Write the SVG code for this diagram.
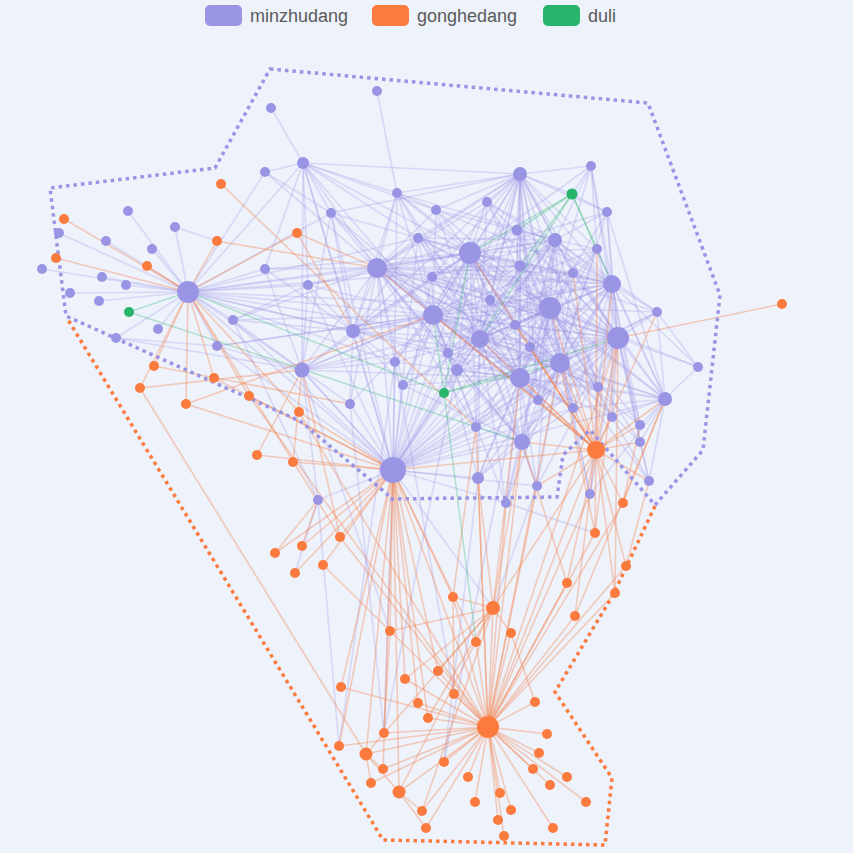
<svg xmlns="http://www.w3.org/2000/svg" width="853" height="853" viewBox="0 0 853 853">
<style>
.bg{fill:#eef2fb}
.pe path{stroke:#9a94e4;stroke-opacity:.27;stroke-width:1.7;fill:none}
.oe path{stroke:#f57f48;stroke-opacity:.36;stroke-width:1.6;fill:none}
.ge path{stroke:#28b46a;stroke-opacity:.3;stroke-width:1.5;fill:none}
.p circle{fill:#9a94e4}
.o circle{fill:#fb7a3e}
.g circle{fill:#28b46a}
.hp{fill:none;stroke:#9a94e4;stroke-width:3.5;stroke-dasharray:3.5 4}
.ho{fill:none;stroke:#fb7a3e;stroke-width:3.5;stroke-dasharray:3.5 4}
.lt{font-family:"Liberation Sans",Arial,sans-serif;font-size:18px;fill:#5a5a5a}
</style>
<rect class="bg" x="0" y="0" width="853" height="853"/>
<g id="legend">
<rect x="205" y="5" width="37" height="21" rx="5" fill="#9a94e4"/><text class="lt" x="250" y="22">minzhudang</text>
<rect x="372" y="5" width="37" height="21" rx="5" fill="#fb7a3e"/><text class="lt" x="417" y="22">gonghedang</text>
<rect x="543" y="5" width="37" height="21" rx="5" fill="#28b46a"/><text class="lt" x="588" y="22">duli</text>
</g>
<g id="connectors">
<g class="pe">
<path d="M470 253L377 268"/><path d="M470 253L550 308"/><path d="M470 253L433 315"/><path d="M470 253L618 338"/><path d="M470 253L480 339"/><path d="M470 253L560 363"/><path d="M470 253L520 378"/><path d="M470 253L612 284"/><path d="M470 253L520 174"/><path d="M470 253L555 240"/><path d="M470 253L393 470"/><path d="M470 253L353 331"/>
<path d="M377 268L550 308"/><path d="M377 268L433 315"/><path d="M377 268L618 338"/><path d="M377 268L480 339"/><path d="M377 268L560 363"/><path d="M377 268L520 378"/><path d="M377 268L612 284"/><path d="M377 268L520 174"/><path d="M377 268L555 240"/><path d="M377 268L393 470"/><path d="M377 268L353 331"/>
<path d="M550 308L433 315"/><path d="M550 308L618 338"/><path d="M550 308L480 339"/><path d="M550 308L560 363"/><path d="M550 308L520 378"/><path d="M550 308L612 284"/><path d="M550 308L520 174"/><path d="M550 308L555 240"/><path d="M550 308L393 470"/><path d="M550 308L353 331"/>
<path d="M433 315L618 338"/><path d="M433 315L480 339"/><path d="M433 315L560 363"/><path d="M433 315L520 378"/><path d="M433 315L612 284"/><path d="M433 315L520 174"/><path d="M433 315L555 240"/><path d="M433 315L393 470"/><path d="M433 315L353 331"/>
<path d="M618 338L480 339"/><path d="M618 338L560 363"/><path d="M618 338L520 378"/><path d="M618 338L612 284"/><path d="M618 338L520 174"/><path d="M618 338L555 240"/><path d="M618 338L393 470"/>
<path d="M480 339L560 363"/><path d="M480 339L520 378"/><path d="M480 339L612 284"/><path d="M480 339L520 174"/><path d="M480 339L555 240"/><path d="M480 339L393 470"/><path d="M480 339L353 331"/>
<path d="M560 363L520 378"/><path d="M560 363L612 284"/><path d="M560 363L520 174"/><path d="M560 363L555 240"/><path d="M560 363L393 470"/>
<path d="M520 378L612 284"/><path d="M520 378L520 174"/><path d="M520 378L555 240"/><path d="M520 378L393 470"/><path d="M520 378L353 331"/>
<path d="M612 284L520 174"/><path d="M612 284L555 240"/><path d="M612 284L393 470"/><path d="M520 174L555 240"/><path d="M520 174L393 470"/><path d="M520 174L353 331"/><path d="M555 240L393 470"/><path d="M393 470L353 331"/>
<path d="M470 253L397 193"/><path d="M470 253L436 210"/><path d="M470 253L418 238"/><path d="M470 253L487 202"/><path d="M470 253L517 230"/><path d="M470 253L597 249"/><path d="M470 253L432 277"/><path d="M470 253L520 266"/><path d="M470 253L573 273"/><path d="M470 253L490 300"/><path d="M470 253L515 325"/><path d="M470 253L530 347"/><path d="M470 253L448 353"/><path d="M470 253L395 362"/><path d="M470 253L457 370"/><path d="M470 253L403 385"/><path d="M470 253L598 387"/><path d="M470 253L538 400"/><path d="M470 253L573 408"/><path d="M470 253L476 427"/><path d="M470 253L331 213"/><path d="M470 253L303 163"/><path d="M470 253L607 212"/><path d="M470 253L657 312"/><path d="M470 253L308 285"/><path d="M470 253L302 370"/><path d="M470 253L591 166"/><path d="M470 253L188 292"/><path d="M470 253L265 269"/>
<path d="M377 268L397 193"/><path d="M377 268L436 210"/><path d="M377 268L418 238"/><path d="M377 268L487 202"/><path d="M377 268L517 230"/><path d="M377 268L432 277"/><path d="M377 268L520 266"/><path d="M377 268L573 273"/><path d="M377 268L490 300"/><path d="M377 268L515 325"/><path d="M377 268L530 347"/><path d="M377 268L448 353"/><path d="M377 268L395 362"/><path d="M377 268L457 370"/><path d="M377 268L403 385"/><path d="M377 268L538 400"/><path d="M377 268L476 427"/><path d="M377 268L331 213"/><path d="M377 268L303 163"/><path d="M377 268L265 172"/><path d="M377 268L308 285"/><path d="M377 268L302 370"/><path d="M377 268L265 269"/><path d="M377 268L350 404"/><path d="M377 268L188 292"/><path d="M377 268L233 320"/>
<path d="M550 308L397 193"/><path d="M550 308L436 210"/><path d="M550 308L418 238"/><path d="M550 308L487 202"/><path d="M550 308L517 230"/><path d="M550 308L597 249"/><path d="M550 308L432 277"/><path d="M550 308L520 266"/><path d="M550 308L573 273"/><path d="M550 308L490 300"/><path d="M550 308L515 325"/><path d="M550 308L530 347"/><path d="M550 308L448 353"/><path d="M550 308L457 370"/><path d="M550 308L403 385"/><path d="M550 308L598 387"/><path d="M550 308L538 400"/><path d="M550 308L573 408"/><path d="M550 308L476 427"/><path d="M550 308L607 212"/><path d="M550 308L591 166"/><path d="M550 308L657 312"/><path d="M550 308L698 367"/><path d="M550 308L612 417"/><path d="M550 308L640 425"/><path d="M550 308L640 442"/><path d="M550 308L537 486"/><path d="M550 308L649 481"/><path d="M550 308L590 494"/><path d="M550 308L478 478"/><path d="M550 308L506 503"/><path d="M550 308L665 399"/><path d="M550 308L188 292"/>
<path d="M433 315L397 193"/><path d="M433 315L436 210"/><path d="M433 315L418 238"/><path d="M433 315L487 202"/><path d="M433 315L517 230"/><path d="M433 315L597 249"/><path d="M433 315L432 277"/><path d="M433 315L520 266"/><path d="M433 315L573 273"/><path d="M433 315L490 300"/><path d="M433 315L515 325"/><path d="M433 315L530 347"/><path d="M433 315L448 353"/><path d="M433 315L395 362"/><path d="M433 315L457 370"/><path d="M433 315L403 385"/><path d="M433 315L598 387"/><path d="M433 315L538 400"/><path d="M433 315L573 408"/><path d="M433 315L476 427"/><path d="M433 315L331 213"/><path d="M433 315L303 163"/><path d="M433 315L308 285"/><path d="M433 315L302 370"/><path d="M433 315L350 404"/><path d="M433 315L478 478"/><path d="M433 315L506 503"/><path d="M433 315L188 292"/><path d="M433 315L233 320"/><path d="M433 315L217 346"/>
<path d="M618 338L487 202"/><path d="M618 338L517 230"/><path d="M618 338L597 249"/><path d="M618 338L520 266"/><path d="M618 338L573 273"/><path d="M618 338L490 300"/><path d="M618 338L515 325"/><path d="M618 338L530 347"/><path d="M618 338L457 370"/><path d="M618 338L598 387"/><path d="M618 338L538 400"/><path d="M618 338L573 408"/><path d="M618 338L612 417"/><path d="M618 338L640 425"/><path d="M618 338L640 442"/><path d="M618 338L649 481"/><path d="M618 338L590 494"/><path d="M618 338L657 312"/><path d="M618 338L698 367"/><path d="M618 338L607 212"/><path d="M618 338L591 166"/><path d="M618 338L537 486"/><path d="M618 338L478 478"/><path d="M618 338L476 427"/><path d="M618 338L432 277"/><path d="M618 338L418 238"/><path d="M618 338L665 399"/>
<path d="M480 339L397 193"/><path d="M480 339L436 210"/><path d="M480 339L418 238"/><path d="M480 339L487 202"/><path d="M480 339L517 230"/><path d="M480 339L597 249"/><path d="M480 339L432 277"/><path d="M480 339L520 266"/><path d="M480 339L573 273"/><path d="M480 339L490 300"/><path d="M480 339L515 325"/><path d="M480 339L530 347"/><path d="M480 339L448 353"/><path d="M480 339L395 362"/><path d="M480 339L457 370"/><path d="M480 339L403 385"/><path d="M480 339L598 387"/><path d="M480 339L538 400"/><path d="M480 339L573 408"/><path d="M480 339L476 427"/><path d="M480 339L478 478"/><path d="M480 339L537 486"/><path d="M480 339L506 503"/><path d="M480 339L302 370"/><path d="M480 339L331 213"/><path d="M480 339L188 292"/>
<path d="M560 363L487 202"/><path d="M560 363L517 230"/><path d="M560 363L597 249"/><path d="M560 363L520 266"/><path d="M560 363L573 273"/><path d="M560 363L490 300"/><path d="M560 363L515 325"/><path d="M560 363L530 347"/><path d="M560 363L448 353"/><path d="M560 363L457 370"/><path d="M560 363L598 387"/><path d="M560 363L538 400"/><path d="M560 363L573 408"/><path d="M560 363L612 417"/><path d="M560 363L640 425"/><path d="M560 363L640 442"/><path d="M560 363L657 312"/><path d="M560 363L607 212"/><path d="M560 363L478 478"/><path d="M560 363L537 486"/><path d="M560 363L590 494"/><path d="M560 363L506 503"/><path d="M560 363L476 427"/><path d="M560 363L418 238"/><path d="M560 363L432 277"/><path d="M560 363L665 399"/><path d="M560 363L649 481"/>
<path d="M520 378L397 193"/><path d="M520 378L418 238"/><path d="M520 378L517 230"/><path d="M520 378L597 249"/><path d="M520 378L432 277"/><path d="M520 378L520 266"/><path d="M520 378L573 273"/><path d="M520 378L490 300"/><path d="M520 378L515 325"/><path d="M520 378L530 347"/><path d="M520 378L448 353"/><path d="M520 378L395 362"/><path d="M520 378L457 370"/><path d="M520 378L403 385"/><path d="M520 378L598 387"/><path d="M520 378L538 400"/><path d="M520 378L573 408"/><path d="M520 378L612 417"/><path d="M520 378L476 427"/><path d="M520 378L478 478"/><path d="M520 378L537 486"/><path d="M520 378L506 503"/><path d="M520 378L657 312"/><path d="M520 378L302 370"/><path d="M520 378L665 399"/>
<path d="M612 284L487 202"/><path d="M612 284L591 166"/><path d="M612 284L607 212"/><path d="M612 284L517 230"/><path d="M612 284L597 249"/><path d="M612 284L520 266"/><path d="M612 284L573 273"/><path d="M612 284L490 300"/><path d="M612 284L657 312"/><path d="M612 284L515 325"/><path d="M612 284L530 347"/><path d="M612 284L698 367"/><path d="M612 284L598 387"/><path d="M612 284L538 400"/><path d="M612 284L573 408"/><path d="M612 284L612 417"/><path d="M612 284L640 425"/><path d="M612 284L640 442"/><path d="M612 284L418 238"/><path d="M612 284L432 277"/><path d="M612 284L397 193"/><path d="M612 284L665 399"/>
<path d="M520 174L397 193"/><path d="M520 174L436 210"/><path d="M520 174L418 238"/><path d="M520 174L487 202"/><path d="M520 174L591 166"/><path d="M520 174L607 212"/><path d="M520 174L517 230"/><path d="M520 174L597 249"/><path d="M520 174L432 277"/><path d="M520 174L520 266"/><path d="M520 174L573 273"/><path d="M520 174L490 300"/><path d="M520 174L515 325"/><path d="M520 174L530 347"/><path d="M520 174L457 370"/><path d="M520 174L303 163"/><path d="M520 174L331 213"/><path d="M520 174L598 387"/><path d="M520 174L538 400"/><path d="M520 174L572 194"/>
<path d="M555 240L397 193"/><path d="M555 240L436 210"/><path d="M555 240L418 238"/><path d="M555 240L487 202"/><path d="M555 240L591 166"/><path d="M555 240L607 212"/><path d="M555 240L517 230"/><path d="M555 240L597 249"/><path d="M555 240L432 277"/><path d="M555 240L520 266"/><path d="M555 240L573 273"/><path d="M555 240L490 300"/><path d="M555 240L657 312"/><path d="M555 240L515 325"/><path d="M555 240L530 347"/><path d="M555 240L448 353"/><path d="M555 240L457 370"/><path d="M555 240L598 387"/><path d="M555 240L538 400"/><path d="M555 240L573 408"/>
<path d="M393 470L331 213"/><path d="M393 470L308 285"/><path d="M393 470L302 370"/><path d="M393 470L397 193"/><path d="M393 470L418 238"/><path d="M393 470L432 277"/><path d="M393 470L448 353"/><path d="M393 470L395 362"/><path d="M393 470L457 370"/><path d="M393 470L403 385"/><path d="M393 470L350 404"/><path d="M393 470L476 427"/><path d="M393 470L478 478"/><path d="M393 470L318 500"/><path d="M393 470L217 346"/><path d="M393 470L233 320"/><path d="M393 470L188 292"/><path d="M393 470L515 325"/><path d="M393 470L530 347"/><path d="M393 470L538 400"/><path d="M393 470L573 408"/><path d="M393 470L598 387"/><path d="M393 470L520 266"/><path d="M393 470L490 300"/><path d="M393 470L303 163"/><path d="M393 470L537 486"/><path d="M393 470L506 503"/><path d="M393 470L522 442"/><path d="M393 470L665 399"/>
<path d="M353 331L303 163"/><path d="M353 331L331 213"/><path d="M353 331L308 285"/><path d="M353 331L302 370"/><path d="M353 331L397 193"/><path d="M353 331L418 238"/><path d="M353 331L432 277"/><path d="M353 331L395 362"/><path d="M353 331L403 385"/><path d="M353 331L350 404"/><path d="M353 331L265 269"/><path d="M353 331L188 292"/><path d="M353 331L233 320"/><path d="M353 331L612 284"/><path d="M353 331L560 363"/>
<path d="M302 370L188 292"/><path d="M302 370L265 269"/><path d="M302 370L308 285"/><path d="M302 370L233 320"/><path d="M302 370L217 346"/><path d="M302 370L350 404"/><path d="M302 370L395 362"/><path d="M302 370L303 163"/><path d="M302 370L331 213"/><path d="M302 370L116 338"/><path d="M302 370L318 500"/><path d="M302 370L433 315"/><path d="M302 370L550 308"/><path d="M302 370L393 470"/>
<path d="M665 399L657 312"/><path d="M665 399L698 367"/><path d="M665 399L598 387"/><path d="M665 399L573 408"/><path d="M665 399L612 417"/><path d="M665 399L640 425"/><path d="M665 399L640 442"/><path d="M665 399L649 481"/><path d="M665 399L590 494"/><path d="M665 399L607 212"/><path d="M665 399L597 249"/><path d="M665 399L573 273"/><path d="M665 399L480 339"/><path d="M665 399L470 253"/>
<path d="M522 442L476 427"/><path d="M522 442L538 400"/><path d="M522 442L573 408"/><path d="M522 442L478 478"/><path d="M522 442L537 486"/><path d="M522 442L506 503"/><path d="M522 442L457 370"/><path d="M522 442L403 385"/><path d="M522 442L448 353"/><path d="M522 442L470 253"/><path d="M522 442L550 308"/><path d="M522 442L433 315"/><path d="M522 442L618 338"/><path d="M522 442L480 339"/><path d="M522 442L560 363"/><path d="M522 442L520 378"/><path d="M522 442L612 284"/><path d="M522 442L555 240"/><path d="M522 442L377 268"/>
<path d="M188 292L128 211"/><path d="M188 292L175 227"/><path d="M188 292L59 233"/><path d="M188 292L106 241"/><path d="M188 292L152 249"/><path d="M188 292L42 269"/><path d="M188 292L102 277"/><path d="M188 292L126 285"/><path d="M188 292L70 293"/><path d="M188 292L99 301"/><path d="M188 292L158 329"/><path d="M188 292L116 338"/><path d="M188 292L233 320"/><path d="M188 292L217 346"/><path d="M188 292L265 269"/><path d="M188 292L303 163"/><path d="M188 292L265 172"/><path d="M188 292L308 285"/><path d="M188 292L418 238"/><path d="M188 292L331 213"/><path d="M188 292L520 266"/><path d="M188 292L395 362"/><path d="M188 292L448 353"/>
<path d="M303 163L271 108"/><path d="M303 163L265 172"/><path d="M303 163L331 213"/><path d="M303 163L436 210"/><path d="M303 163L397 193"/><path d="M303 163L265 269"/><path d="M303 163L308 285"/><path d="M303 163L418 238"/><path d="M377 91L397 193"/><path d="M265 172L331 213"/><path d="M175 227L217 241"/><path d="M116 338L217 346"/><path d="M217 346L433 315"/><path d="M233 320L308 285"/>
<path d="M698 367L657 312"/><path d="M591 166L572 194"/><path d="M607 212L572 194"/><path d="M591 166L597 249"/><path d="M649 481L640 442"/><path d="M590 494L598 387"/><path d="M318 500L233 320"/>
<path d="M318 500L295 573"/><path d="M318 500L339 746"/><path d="M350 404L384 733"/><path d="M393 470L384 733"/><path d="M457 370L384 733"/><path d="M478 478L444 762"/><path d="M520 378L444 762"/><path d="M395 362L339 746"/><path d="M393 470L493 608"/><path d="M302 370L390 631"/><path d="M506 503L595 533"/><path d="M537 486L493 608"/><path d="M395 362L454 694"/>
</g>
<g class="oe">
<path d="M221 184L476 427"/><path d="M64 219L188 292"/><path d="M217 241L188 292"/><path d="M217 241L377 268"/><path d="M297 233L188 292"/><path d="M297 233L377 268"/><path d="M297 233L353 331"/><path d="M56 258L188 292"/><path d="M147 266L188 292"/><path d="M154 366L188 292"/><path d="M154 366L350 404"/><path d="M214 378L188 292"/><path d="M214 378L393 470"/><path d="M140 388L188 292"/><path d="M140 388L366 754"/><path d="M140 388L302 370"/><path d="M186 404L188 292"/><path d="M186 404L393 470"/><path d="M186 404L433 315"/><path d="M249 396L188 292"/><path d="M249 396L393 470"/><path d="M249 396L488 727"/><path d="M299 412L393 470"/><path d="M299 412L488 727"/><path d="M299 412L188 292"/><path d="M257 455L302 370"/><path d="M257 455L393 470"/><path d="M293 462L393 470"/><path d="M293 462L302 370"/><path d="M782 304L618 338"/>
<path d="M596 450L665 399"/><path d="M596 450L618 338"/><path d="M596 450L612 284"/><path d="M596 450L560 363"/><path d="M596 450L520 378"/><path d="M596 450L598 387"/><path d="M596 450L573 408"/><path d="M596 450L612 417"/><path d="M596 450L640 425"/><path d="M596 450L640 442"/><path d="M596 450L649 481"/><path d="M596 450L590 494"/><path d="M596 450L537 486"/><path d="M596 450L522 442"/><path d="M596 450L550 308"/><path d="M596 450L470 253"/><path d="M596 450L377 268"/><path d="M596 450L433 315"/><path d="M596 450L480 339"/><path d="M596 450L538 400"/><path d="M596 450L515 325"/><path d="M596 450L530 347"/><path d="M596 450L597 249"/><path d="M596 450L573 273"/><path d="M596 450L657 312"/><path d="M596 450L623 503"/><path d="M596 450L488 727"/><path d="M596 450L493 608"/><path d="M596 450L595 533"/><path d="M596 450L393 470"/>
<path d="M623 503L488 727"/><path d="M623 503L665 399"/><path d="M623 503L640 425"/><path d="M595 533L488 727"/><path d="M595 533L560 363"/><path d="M595 533L618 338"/><path d="M340 537L393 470"/><path d="M340 537L188 292"/><path d="M340 537L488 727"/><path d="M340 537L302 370"/><path d="M302 546L393 470"/><path d="M302 546L318 500"/><path d="M275 553L318 500"/><path d="M275 553L393 470"/><path d="M323 565L393 470"/><path d="M323 565L488 727"/><path d="M295 573L393 470"/><path d="M626 566L488 727"/><path d="M626 566L649 481"/><path d="M626 566L596 450"/><path d="M567 583L488 727"/><path d="M567 583L596 450"/><path d="M567 583L522 442"/><path d="M615 593L488 727"/><path d="M615 593L596 450"/><path d="M615 593L618 338"/><path d="M453 597L493 608"/><path d="M453 597L393 470"/><path d="M453 597L488 727"/><path d="M453 597L476 427"/>
<path d="M493 608L488 727"/><path d="M493 608L522 442"/><path d="M493 608L520 378"/><path d="M493 608L478 478"/><path d="M493 608L390 631"/><path d="M493 608L511 633"/><path d="M493 608L405 679"/><path d="M575 616L488 727"/><path d="M575 616L665 399"/><path d="M575 616L590 494"/><path d="M390 631L393 470"/><path d="M511 633L488 727"/><path d="M476 642L488 727"/><path d="M476 642L393 470"/><path d="M438 671L488 727"/><path d="M438 671L393 470"/><path d="M438 671L493 608"/><path d="M405 679L488 727"/><path d="M405 679L393 470"/><path d="M341 687L488 727"/><path d="M341 687L393 470"/><path d="M454 694L488 727"/><path d="M454 694L453 597"/><path d="M418 703L488 727"/><path d="M418 703L393 470"/><path d="M535 702L488 727"/><path d="M535 702L511 633"/><path d="M428 718L488 727"/><path d="M428 718L393 470"/><path d="M428 718L493 608"/>
<path d="M384 733L488 727"/><path d="M384 733L390 631"/><path d="M547 734L488 727"/><path d="M339 746L488 727"/><path d="M339 746L393 470"/><path d="M366 754L488 727"/><path d="M366 754L393 470"/><path d="M366 754L493 608"/><path d="M539 753L488 727"/><path d="M444 762L488 727"/><path d="M383 769L488 727"/><path d="M383 769L393 470"/><path d="M383 769L366 754"/><path d="M533 769L488 727"/><path d="M567 777L488 727"/><path d="M468 777L488 727"/><path d="M550 785L488 727"/><path d="M371 783L488 727"/><path d="M371 783L366 754"/><path d="M399 792L488 727"/><path d="M399 792L393 470"/><path d="M399 792L493 608"/><path d="M399 792L366 754"/><path d="M500 793L488 727"/><path d="M475 802L488 727"/><path d="M586 802L488 727"/><path d="M511 810L488 727"/><path d="M422 811L488 727"/><path d="M422 811L399 792"/><path d="M422 811L493 608"/><path d="M498 820L488 727"/><path d="M553 828L488 727"/><path d="M426 828L488 727"/><path d="M426 828L399 792"/><path d="M504 836L488 727"/>
<path d="M488 727L393 470"/><path d="M488 727L522 442"/><path d="M488 727L478 478"/><path d="M488 727L537 486"/><path d="M488 727L590 494"/><path d="M488 727L506 503"/><path d="M488 727L476 427"/><path d="M488 727L560 363"/><path d="M488 727L618 338"/>
</g>
<g class="ge">
<path d="M129 312L188 292"/><path d="M129 312L522 442"/><path d="M572 194L517 230"/><path d="M572 194L470 253"/><path d="M572 194L480 339"/><path d="M572 194L612 284"/><path d="M572 194L597 249"/><path d="M572 194L520 266"/>
<path d="M444 393L188 292"/><path d="M444 393L470 253"/><path d="M444 393L618 338"/><path d="M444 393L476 642"/><path d="M444 393L560 363"/><path d="M444 393L433 315"/>
</g>
</g>
<g id="hulls">
<polyline class="ho" points="655,506 613,595 555,692 612,778 605,845 383,840 67,318"/>
<polygon class="hp" points="270,69 648,103 720,295 703,450 655,505 590,430 563,455 557,497 390,499 387,494 300,421 66,316 50,188 215,168"/>
</g>
<g id="nodes">
<g class="p">
<g id="p1"><circle cx="188" cy="292" r="11"/></g>
<g id="p2"><circle cx="128" cy="211" r="5"/></g>
<g id="p3"><circle cx="175" cy="227" r="5"/></g>
<g id="p4"><circle cx="59" cy="233" r="5"/></g>
<g id="p5"><circle cx="106" cy="241" r="5"/></g>
<g id="p6"><circle cx="152" cy="249" r="5"/></g>
<g id="p7"><circle cx="42" cy="269" r="5"/></g>
<g id="p8"><circle cx="102" cy="277" r="5"/></g>
<g id="p9"><circle cx="126" cy="285" r="5"/></g>
<g id="p10"><circle cx="70" cy="293" r="5"/></g>
<g id="p11"><circle cx="99" cy="301" r="5"/></g>
<g id="p12"><circle cx="158" cy="329" r="5"/></g>
<g id="p13"><circle cx="233" cy="320" r="5"/></g>
<g id="p14"><circle cx="116" cy="338" r="5"/></g>
<g id="p15"><circle cx="217" cy="346" r="5"/></g>
<g id="p16"><circle cx="265" cy="269" r="5"/></g>
<g id="p17"><circle cx="265" cy="172" r="5"/></g>
<g id="p18"><circle cx="303" cy="163" r="6"/></g>
<g id="p19"><circle cx="271" cy="108" r="5"/></g>
<g id="p20"><circle cx="377" cy="91" r="5"/></g>
<g id="p21"><circle cx="331" cy="213" r="5"/></g>
<g id="p22"><circle cx="308" cy="285" r="5"/></g>
<g id="p23"><circle cx="302" cy="370" r="7.5"/></g>
<g id="p24"><circle cx="397" cy="193" r="5"/></g>
<g id="p25"><circle cx="436" cy="210" r="5"/></g>
<g id="p26"><circle cx="418" cy="238" r="5"/></g>
<g id="p27"><circle cx="487" cy="202" r="5"/></g>
<g id="p28"><circle cx="520" cy="174" r="7"/></g>
<g id="p29"><circle cx="591" cy="166" r="5"/></g>
<g id="p30"><circle cx="607" cy="212" r="5"/></g>
<g id="p31"><circle cx="517" cy="230" r="5.5"/></g>
<g id="p32"><circle cx="555" cy="240" r="7"/></g>
<g id="p33"><circle cx="597" cy="249" r="5"/></g>
<g id="p34"><circle cx="470" cy="253" r="11"/></g>
<g id="p35"><circle cx="377" cy="268" r="10"/></g>
<g id="p36"><circle cx="432" cy="277" r="5"/></g>
<g id="p37"><circle cx="520" cy="266" r="5.5"/></g>
<g id="p38"><circle cx="573" cy="273" r="5"/></g>
<g id="p39"><circle cx="612" cy="284" r="9"/></g>
<g id="p40"><circle cx="490" cy="300" r="5"/></g>
<g id="p41"><circle cx="550" cy="308" r="11"/></g>
<g id="p42"><circle cx="657" cy="312" r="5"/></g>
<g id="p43"><circle cx="433" cy="315" r="10"/></g>
<g id="p44"><circle cx="515" cy="325" r="5"/></g>
<g id="p45"><circle cx="353" cy="331" r="7"/></g>
<g id="p46"><circle cx="618" cy="338" r="11"/></g>
<g id="p47"><circle cx="480" cy="339" r="9"/></g>
<g id="p48"><circle cx="530" cy="347" r="5"/></g>
<g id="p49"><circle cx="448" cy="353" r="5"/></g>
<g id="p50"><circle cx="395" cy="362" r="5"/></g>
<g id="p51"><circle cx="560" cy="363" r="10"/></g>
<g id="p52"><circle cx="457" cy="370" r="6"/></g>
<g id="p53"><circle cx="520" cy="378" r="10"/></g>
<g id="p54"><circle cx="698" cy="367" r="5"/></g>
<g id="p55"><circle cx="403" cy="385" r="5"/></g>
<g id="p56"><circle cx="598" cy="387" r="5"/></g>
<g id="p57"><circle cx="538" cy="400" r="5"/></g>
<g id="p58"><circle cx="665" cy="399" r="7"/></g>
<g id="p59"><circle cx="350" cy="404" r="5"/></g>
<g id="p60"><circle cx="573" cy="408" r="5"/></g>
<g id="p61"><circle cx="612" cy="417" r="5"/></g>
<g id="p62"><circle cx="640" cy="425" r="5"/></g>
<g id="p63"><circle cx="476" cy="427" r="5"/></g>
<g id="p64"><circle cx="522" cy="442" r="8"/></g>
<g id="p65"><circle cx="640" cy="442" r="5"/></g>
<g id="p66"><circle cx="393" cy="470" r="13"/></g>
<g id="p67"><circle cx="478" cy="478" r="6"/></g>
<g id="p68"><circle cx="537" cy="486" r="5"/></g>
<g id="p69"><circle cx="649" cy="481" r="5"/></g>
<g id="p70"><circle cx="590" cy="494" r="5"/></g>
<g id="p71"><circle cx="318" cy="500" r="5"/></g>
<g id="p72"><circle cx="506" cy="503" r="5"/></g>
</g>
<g class="g">
<g id="g1"><circle cx="129" cy="312" r="5"/></g>
<g id="g2"><circle cx="572" cy="194" r="5.5"/></g>
<g id="g3"><circle cx="444" cy="393" r="5"/></g>
</g>
<g class="o">
<g id="o1"><circle cx="221" cy="184" r="5"/></g>
<g id="o2"><circle cx="64" cy="219" r="5"/></g>
<g id="o3"><circle cx="217" cy="241" r="5"/></g>
<g id="o4"><circle cx="297" cy="233" r="5"/></g>
<g id="o5"><circle cx="56" cy="258" r="5"/></g>
<g id="o6"><circle cx="147" cy="266" r="5"/></g>
<g id="o7"><circle cx="154" cy="366" r="5"/></g>
<g id="o8"><circle cx="214" cy="378" r="5"/></g>
<g id="o9"><circle cx="140" cy="388" r="5"/></g>
<g id="o10"><circle cx="186" cy="404" r="5"/></g>
<g id="o11"><circle cx="249" cy="396" r="5"/></g>
<g id="o12"><circle cx="299" cy="412" r="5"/></g>
<g id="o13"><circle cx="257" cy="455" r="5"/></g>
<g id="o14"><circle cx="293" cy="462" r="5"/></g>
<g id="o15"><circle cx="782" cy="304" r="5"/></g>
<g id="o16"><circle cx="596" cy="450" r="9"/></g>
<g id="o17"><circle cx="623" cy="503" r="5"/></g>
<g id="o18"><circle cx="595" cy="533" r="5"/></g>
<g id="o19"><circle cx="340" cy="537" r="5"/></g>
<g id="o20"><circle cx="302" cy="546" r="5"/></g>
<g id="o21"><circle cx="275" cy="553" r="5"/></g>
<g id="o22"><circle cx="323" cy="565" r="5"/></g>
<g id="o23"><circle cx="295" cy="573" r="5"/></g>
<g id="o24"><circle cx="626" cy="566" r="5"/></g>
<g id="o25"><circle cx="567" cy="583" r="5"/></g>
<g id="o26"><circle cx="615" cy="593" r="5"/></g>
<g id="o27"><circle cx="453" cy="597" r="5"/></g>
<g id="o28"><circle cx="493" cy="608" r="7"/></g>
<g id="o29"><circle cx="575" cy="616" r="5"/></g>
<g id="o30"><circle cx="390" cy="631" r="5"/></g>
<g id="o31"><circle cx="511" cy="633" r="5"/></g>
<g id="o32"><circle cx="476" cy="642" r="5"/></g>
<g id="o33"><circle cx="438" cy="671" r="5"/></g>
<g id="o34"><circle cx="405" cy="679" r="5"/></g>
<g id="o35"><circle cx="341" cy="687" r="5"/></g>
<g id="o36"><circle cx="454" cy="694" r="5"/></g>
<g id="o37"><circle cx="418" cy="703" r="5"/></g>
<g id="o38"><circle cx="535" cy="702" r="5"/></g>
<g id="o39"><circle cx="428" cy="718" r="5"/></g>
<g id="o40"><circle cx="488" cy="727" r="11"/></g>
<g id="o41"><circle cx="384" cy="733" r="5"/></g>
<g id="o42"><circle cx="547" cy="734" r="5"/></g>
<g id="o43"><circle cx="339" cy="746" r="5"/></g>
<g id="o44"><circle cx="366" cy="754" r="6.5"/></g>
<g id="o45"><circle cx="539" cy="753" r="5"/></g>
<g id="o46"><circle cx="444" cy="762" r="5"/></g>
<g id="o47"><circle cx="383" cy="769" r="5"/></g>
<g id="o48"><circle cx="533" cy="769" r="5"/></g>
<g id="o49"><circle cx="567" cy="777" r="5"/></g>
<g id="o50"><circle cx="468" cy="777" r="5"/></g>
<g id="o51"><circle cx="550" cy="785" r="5"/></g>
<g id="o52"><circle cx="371" cy="783" r="5"/></g>
<g id="o53"><circle cx="399" cy="792" r="6.5"/></g>
<g id="o54"><circle cx="500" cy="793" r="5"/></g>
<g id="o55"><circle cx="475" cy="802" r="5"/></g>
<g id="o56"><circle cx="586" cy="802" r="5"/></g>
<g id="o57"><circle cx="511" cy="810" r="5"/></g>
<g id="o58"><circle cx="422" cy="811" r="5"/></g>
<g id="o59"><circle cx="498" cy="820" r="5"/></g>
<g id="o60"><circle cx="553" cy="828" r="5"/></g>
<g id="o61"><circle cx="426" cy="828" r="5"/></g>
<g id="o62"><circle cx="504" cy="836" r="5"/></g>
</g>
</g>
</svg>
